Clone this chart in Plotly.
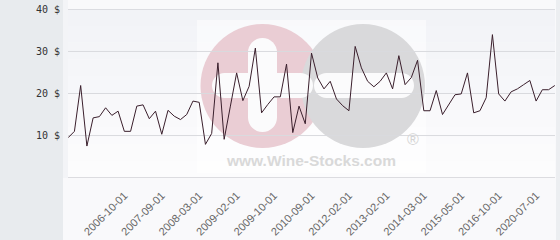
import plotly.graph_objects as go

# ---- data ----
prices = [
    9.5, 11.0, 21.9, 7.5, 14.2, 14.5, 16.6, 14.8, 15.8, 11.0,
    11.0, 17.0, 17.3, 14.0, 15.8, 10.3, 16.0, 14.6, 13.8, 15.0,
    18.2, 17.9, 7.9, 10.5, 27.3, 9.1, 17.0, 24.9, 18.3, 21.7,
    30.8, 15.4, 17.4, 19.2, 19.2, 27.0, 10.7, 17.0, 12.8, 29.6,
    23.7, 21.1, 22.9, 18.7, 17.1, 15.9, 31.2, 26.1, 22.9, 21.6,
    22.9, 24.9, 21.1, 29.0, 22.1, 23.8, 27.9, 15.9, 15.9, 20.7,
    15.0, 17.4, 19.7, 19.9, 24.9, 15.4, 15.9, 19.0, 34.0, 19.9,
    18.2, 20.4, 21.1, 22.1, 23.1, 18.2, 20.9, 20.9, 21.9,
]
tick_labels = [
    "2006-10-01", "2007-09-01", "2008-03-01", "2009-02-01", "2009-10-01",
    "2010-09-01", "2012-02-01", "2013-02-01", "2014-03-01", "2015-05-01",
    "2016-10-01", "2020-07-01",
]
tick_index = [9, 15, 21, 27, 33, 39, 45, 51, 57, 63, 69, 75]
y_ticks = [10, 20, 30, 40]
y_tick_labels = ["10 $", "20 $", "30 $", "40 $"]
grid_values = [0, 10, 20, 30, 40]
watermark_text = "www.Wine-Stocks.com"

# ---- layout geometry (pixels) ----
W, H = 560, 240
ML, MR, MT, MB = 68, 5, 9, 62
PW, PH = W - ML - MR, H - MT - MB
Y_MIN, Y_MAX = -0.1, 40.1
X_MIN, X_MAX = -0.03, len(prices) - 1 + 0.03


def px(x):
    return (x - ML) / PW


def py(y):
    return (H - MB - y) / PH


x_idx = list(range(len(prices)))

fig = go.Figure()

# horizontal grid lines as a trace (sits above the watermark shapes)
gx, gy = [], []
for v in grid_values:
    gx += [X_MIN, X_MAX, None]
    gy += [v, v, None]
fig.add_trace(go.Scatter(
    x=gx, y=gy, mode="lines", line=dict(color="#d9dade", width=1),
    hoverinfo="skip", showlegend=False, cliponaxis=False,
))

fig.add_trace(go.Scatter(
    x=x_idx, y=prices, mode="lines",
    line=dict(color="#3a1f2c", width=1),
    hoverinfo="skip", showlegend=False,
))

shapes = []
# left gray panel
shapes.append(dict(type="rect", xref="paper", yref="paper", layer="below",
                   x0=px(0), x1=px(63), y0=py(H), y1=py(0),
                   fillcolor="#e8ebee", line=dict(width=0)))
# right strip
shapes.append(dict(type="rect", xref="paper", yref="paper", layer="below",
                   x0=px(556), x1=px(W), y0=py(H), y1=py(0),
                   fillcolor="#eceef1", line=dict(width=0)))
# background strip left of the plot area
shapes.append(dict(type="rect", xref="paper", yref="paper", layer="below",
                   x0=px(63), x1=px(ML), y0=py(H - MB), y1=py(0),
                   fillcolor="#f3f4f7", line=dict(width=0)))

DREF = dict(xref="paper", yref="paper", layer="below")

# plot background gradient bands
n_bands = 10
c_top = (242, 243, 247)
c_bot = (252, 252, 253)
for i in range(n_bands):
    t = i / (n_bands - 1)
    c = tuple(round(a + (b - a) * t) for a, b in zip(c_top, c_bot))
    shapes.append(dict(type="rect", **DREF,
                       x0=0, x1=1,
                       y0=1 - (i + 1) / n_bands, y1=1 - i / n_bands,
                       fillcolor="rgb(%d,%d,%d)" % c, line=dict(width=0)))
# watermark backing
shapes.append(dict(type="rect", **DREF,
                   x0=px(197), x1=px(426), y0=py(173), y1=py(20),
                   fillcolor="rgba(255,255,255,0.5)", line=dict(width=0)))


def circle(cx, cy, r, color):
    return dict(type="circle", **DREF,
                x0=px(cx - r), x1=px(cx + r), y0=py(cy + r), y1=py(cy - r),
                fillcolor=color, line=dict(width=0))


def rect(x0, x1, y0, y1, color):
    return dict(type="rect", **DREF,
                x0=px(x0), x1=px(x1), y0=py(y1), y1=py(y0),
                fillcolor=color, line=dict(width=0))


def pill(x0, x1, y0, y1, color):
    if (x1 - x0) >= (y1 - y0):
        r = (y1 - y0) / 2
        return [rect(x0 + r, x1 - r, y0, y1, color),
                circle(x0 + r, (y0 + y1) / 2, r, color),
                circle(x1 - r, (y0 + y1) / 2, r, color)]
    r = (x1 - x0) / 2
    return [rect(x0, x1, y0 + r, y1 - r, color),
            circle((x0 + x1) / 2, y0 + r, r, color),
            circle((x0 + x1) / 2, y1 - r, r, color)]


PINK = "#eacdd4"
GRAY = "#d9d9db"
WHITE = "#fbfbfc"
shapes.append(circle(262.5, 86, 62, PINK))
shapes.append(circle(363, 86, 62, GRAY))
shapes += pill(248, 277, 38, 132, WHITE)
shapes += pill(212, 313, 73, 98, WHITE)
shapes += pill(314, 414, 73, 98, WHITE)

annotations = [
    dict(xref="paper", yref="paper", x=px(311), y=py(160), text="<b>%s</b>" % watermark_text,
         showarrow=False, font=dict(family="Liberation Sans", size=15.5, color="#d9d9d9"),
         xanchor="center", yanchor="middle"),
    dict(xref="paper", yref="paper", x=px(413), y=py(139), text="®",
         showarrow=False, font=dict(family="Liberation Sans", size=16, color="#d4d4d4"),
         xanchor="center", yanchor="middle"),
]

fig.update_layout(
    width=W, height=H,
    margin=dict(l=ML, r=MR, t=MT, b=MB, pad=0),
    paper_bgcolor="#f9f9fb",
    plot_bgcolor="rgba(0,0,0,0)",
    shapes=shapes,
    annotations=annotations,
    showlegend=False,
    xaxis=dict(
        range=[X_MIN, X_MAX],
        tickmode="array", tickvals=tick_index, ticktext=tick_labels,
        tickangle=-45, ticks="", showgrid=False, zeroline=False,
        showline=False, automargin=False, ticklabelstandoff=8,
        tickfont=dict(family="Liberation Sans", size=11, color="#666666"),
    ),
    yaxis=dict(
        range=[Y_MIN, Y_MAX],
        tickmode="array", tickvals=y_ticks, ticktext=y_tick_labels,
        ticks="", showgrid=False, zeroline=False,
        showline=False, automargin=False, ticklabelstandoff=7,
        tickfont=dict(family="DejaVu Sans Mono", size=10, color="#333333"),
    ),
)

fig.write_html("out.html")
